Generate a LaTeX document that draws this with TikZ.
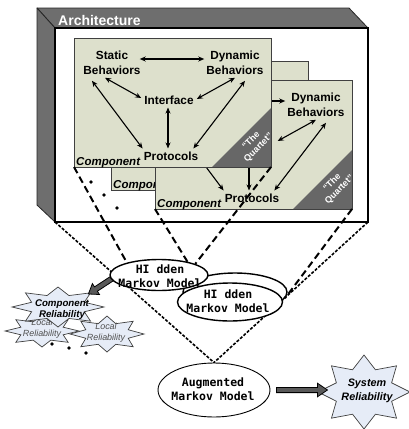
\documentclass[tikz,border=0pt]{standalone}
\usepackage{fontspec}
\setmainfont{Liberation Sans}
\newfontfamily\monof{DejaVu Sans Mono}
\usetikzlibrary{arrows.meta,shapes.geometric}
\pgfdeclarelayer{mid}
\pgfdeclarelayer{front}
\pgfsetlayers{main,mid,front}
\definecolor{panelgray}{HTML}{6E6E6E}
\definecolor{quartetgray}{HTML}{676767}
\definecolor{compfill}{HTML}{DDE0CC}
\definecolor{starfill}{HTML}{E6ECF7}
\definecolor{blockgray}{HTML}{595959}
\definecolor{startext}{HTML}{505050}
\newcommand{\mystar}[6]{%
  \filldraw[#1] plot[samples at={0,...,15}, variable=\k]
   ({#2+(isodd(\k) ? #6 : 1)*#4*cos(90+22.5*\k)}, {#3-(isodd(\k) ? #6 : 1)*#5*sin(90+22.5*\k)}) -- cycle;}
\tikzset{
  lbl/.style={font=\bfseries\fontsize{11.8}{14.5}\selectfont, align=center, inner sep=3pt},
  twoline/.style={lbl, minimum width=63pt, minimum height=29pt},
  oneline/.style={lbl, minimum height=14.5pt},
  dbl/.style={{Stealth[length=6pt,width=5pt]}-{Stealth[length=6pt,width=5pt]}, line width=1.1pt},
  complbl/.style={font=\bfseries\itshape\fontsize{11.5}{13}\selectfont, anchor=base west, inner sep=0pt},
  compbox/.style={fill=compfill, minimum width=197pt, minimum height=129pt, inner sep=0pt, outer sep=0pt, draw=none},
  compborder/.style={draw=black!75, line width=1pt},
  quartet/.style={fill=quartetgray},
  quartettxt/.style={font=\bfseries\fontsize{9}{10.5}\selectfont, text=white, align=center, rotate=45, inner sep=0pt},
  panel/.style={fill=panelgray, draw=black!85, line width=0.8pt, line join=round},
  archface/.style={draw=black, line width=1.6pt, fill=white, minimum width=313pt, minimum height=194pt, inner sep=0pt, outer sep=0pt},
  bigdash/.style={line width=2pt, dash pattern=on 7pt off 4pt},
  smalldash/.style={line width=1.6pt, dash pattern=on 3pt off 1.6pt},
  hmm/.style={ellipse, draw=black, line width=1.4pt, fill=white, inner sep=0pt},
  hmmtxt/.style={font=\monof\bfseries\fontsize{11.5}{13.5}\selectfont, align=center, inner sep=0pt},
  starsty/.style={fill=starfill, draw=black!75, line width=0.7pt, line join=miter},
  blockarrow/.style={fill=blockgray, draw=black, line width=0.8pt, line join=miter},
  crtxt/.style={font=\bfseries\itshape\fontsize{9.7}{11}\selectfont, align=center, inner sep=0pt},
  loctxt/.style={font=\itshape\fontsize{8.9}{11}\selectfont, text=startext, align=center, inner sep=0pt},
  systxt/.style={font=\bfseries\itshape\fontsize{10.8}{13.5}\selectfont, align=center, inner sep=0pt},
  compbare/.pic={
    \node[compbox] (-box) at (98.5,64.5) {};
    \draw[compborder] (-box.north west) rectangle (-box.south east);
    \node[complbl] (-lbl) at (2,127) {Component};
  },
  pics/compfull/.style 2 args={code={
    \node[compbox] (-box) at (98.5,64.5) {};
    \fill[quartet] (138,129) -- (197,129) -- (197,70) -- cycle;
    \draw[compborder] (-box.north west) rectangle (-box.south east);
    \node[quartettxt] (-qt) at (181,106) {“The\\Quartet”};
    \node[twoline] (-static) at (38,25) {#1};
    \node[twoline] (-dynamic) at (161,25) {Dynamic\\Behaviors};
    \node[oneline, minimum width=55pt] (-interface) at (95,62) {#2};
    \node[oneline, minimum width=60pt] (-protocols) at (97,118) {Protocols};
    \node[complbl] (-lbl) at (2,127) {Component};
    \draw[dbl] ([xshift=-4pt,yshift=4pt]-static.east) -- ([xshift=1pt,yshift=4pt]-dynamic.west);
    \draw[dbl] ([xshift=-7pt]-static.south) -- ([yshift=2pt]-interface.west);
    \draw[dbl] (-dynamic.south) -- ([yshift=1pt]-interface.east);
    \draw[dbl] ([xshift=-1pt]-interface.south) -- ([xshift=-3pt]-protocols.north);
    \draw[dbl] ([xshift=-20pt,yshift=-3pt]-static.south) -- ([xshift=2pt]-protocols.north west);
    \draw[dbl] ([xshift=10pt,yshift=-3pt]-dynamic.south) -- ([xshift=-8pt]-protocols.north east);
  }}
}
\begin{document}
\begin{tikzpicture}[x=1pt,y=-1pt]
\useasboundingbox (0,0) rectangle (409,429);
\fill[white] (0,0) rectangle (409,429);
% architecture box
\filldraw[panel] (37,8) -- (349,8) -- (368,28) -- (55,28) -- cycle;
\filldraw[panel] (37,8) -- (55,28) -- (55,222) -- (37,205) -- cycle;
\node[archface] (arch) at (211.5,125) {};
\node[font=\bfseries\fontsize{14}{15}\selectfont, text=white, anchor=base west, inner sep=0pt] (archlbl) at (58,25.5) {Architecture};
% components
\pic (c2) at (111,61) {compbare};
\pic (c3) at (155,80) {compfull={}{}};
\pic (c1) at (74,38) {compfull={Static\\Behaviors}{Interface}};
% dots
\fill (91,182) circle (1.8pt);
\fill (104,195) circle (1.8pt);
\fill (117,208) circle (1.8pt);
% ellipses
\begin{pgfonlayer}{front}
\node[hmm, minimum width=104pt, minimum height=38pt] (h2b) at (235,292) {};
\node[hmm, minimum width=105pt, minimum height=38pt] (h2) at (230,302) {};
\node[hmmtxt] (h2t) at (228,301) {HI dden\\Markov Model};
\node[hmm, minimum width=98pt, minimum height=31pt] (h1) at (159,275) {};
\node[hmmtxt] (h1t) at (160,276) {HI dden\\Markov Model};
\node[hmm, line width=0.9pt, minimum width=112pt, minimum height=54pt] (am) at (214,390) {};
\node[hmmtxt] (amt) at (213,389) {Augmented\\Markov Model};
\end{pgfonlayer}
% stars and block arrows
\begin{pgfonlayer}{mid}
\mystar{starsty}{42}{331}{37}{16}{0.62}
\node[loctxt] (lr1) at (42,329) {Local\\Reliability};
\mystar{starsty}{58}{307}{46}{20}{0.62}
\node[crtxt] (cr) at (62,310) {Component\\Reliability};
\mystar{starsty}{107}{334}{37}{18}{0.62}
\node[loctxt] (lr2) at (106,333) {Local\\Reliability};
\fill (52,344) circle (1.8pt);
\fill (69,348) circle (1.8pt);
\fill (86,353) circle (1.8pt);
\begin{scope}[shift={(h1.185)}, rotate=213.2]
\filldraw[blockarrow] (-3,-2.6) -- (18,-2.6) -- (18,-6.5) -- (27,0) -- (18,6.5) -- (18,2.6) -- (-3,2.6) -- cycle;
\end{scope}
\mystar{starsty}{364}{392}{46}{37}{0.65}
\node[systxt] (sr) at (367,391) {System\\Reliability};
\begin{scope}[shift={(am.east)}]
\filldraw[blockarrow] (6,-2.6) -- (47,-2.6) -- (47,-6.8) -- (57,0) -- (47,6.8) -- (47,2.6) -- (6,2.6) -- cycle;
\end{scope}
\end{pgfonlayer}
% dashed projection lines
\draw[bigdash] (c1-box.south west) -- (h1.159);
\draw[bigdash] (c1-box.south east) -- (h1.17);
\draw[bigdash] (c3-box.south west) -- (h1.25);
\draw[bigdash] (c3-box.south east) -- (h2b.-7);
\draw[smalldash] (arch.south west) -- (am.north);
\draw[smalldash] (arch.south east) -- (am.north);
\end{tikzpicture}
\end{document}
